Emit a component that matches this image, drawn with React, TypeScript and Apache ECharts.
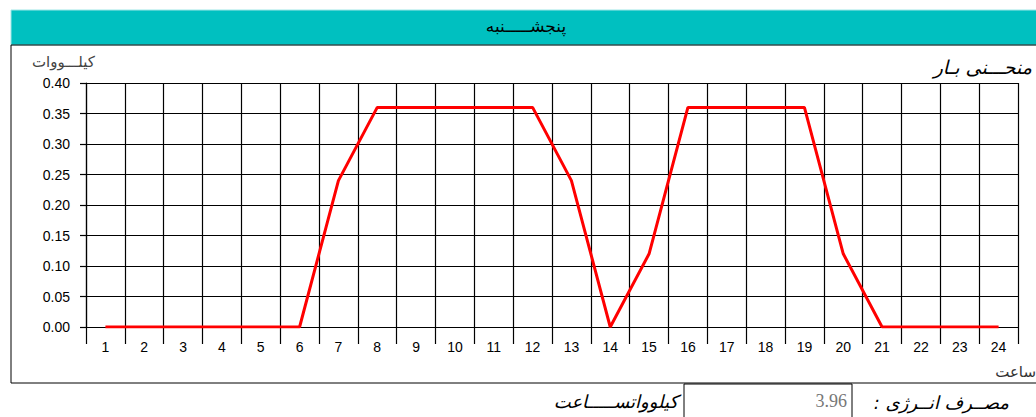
import React, { useEffect, useRef } from "react";
import * as echarts from "echarts";

const hours: string[] = [
  "1","2","3","4","5","6","7","8","9","10","11","12",
  "13","14","15","16","17","18","19","20","21","22","23","24",
];
const loadKw: number[] = [
  0, 0, 0, 0, 0, 0, 0.24, 0.36, 0.36, 0.36, 0.36, 0.36,
  0.24, 0, 0.12, 0.36, 0.36, 0.36, 0.36, 0.12, 0, 0, 0, 0,
];
const dayTitle = "پنجشـــــنبه";
const chartTitle = "منحـــنی بـار";
const yUnit = "کیلـــووات";
const xUnit = "ساعت";
const energyLabel = "مصــرف انــرژی :\u200F";
const energyValue = "3.96";
const energyUnit = "کیلوواتســـــاعت";

const PERSIAN_FONT = "'DejaVu Sans', 'Noto Sans', sans-serif";
const LATIN_FONT = "'Liberation Sans', Arial, sans-serif";

export default function App() {
  const ref = useRef<HTMLDivElement>(null);
  useEffect(() => {
    if (!ref.current) return;
    const chart = echarts.init(ref.current, undefined, { renderer: "svg" });
    chart.setOption({
      animation: false,
      backgroundColor: "#ffffff",
      grid: { left: 86, right: 18, top: 83, bottom: 90, containLabel: false },
      xAxis: {
        type: "category",
        data: hours,
        boundaryGap: true,
        axisLine: { show: true, lineStyle: { color: "#000", width: 1.2 } },
        axisTick: { show: true, interval: 0, length: 17, lineStyle: { color: "#000", width: 1.2 } },
        axisLabel: { interval: 0, color: "#000", fontSize: 14, fontFamily: LATIN_FONT, margin: 13 },
        splitLine: { show: true, interval: 0, lineStyle: { color: "#000", width: 1.2 } },
      },
      yAxis: {
        type: "value",
        min: 0,
        max: 0.4,
        interval: 0.05,
        axisLine: { show: true, lineStyle: { color: "#000", width: 1.2 } },
        axisTick: { show: true, length: 6, lineStyle: { color: "#000", width: 1.2 } },
        axisLabel: {
          color: "#000",
          fontSize: 14,
          fontFamily: LATIN_FONT,
          margin: 16,
          formatter: (v: number) => v.toFixed(2),
        },
        splitLine: { show: true, lineStyle: { color: "#000", width: 1.2 } },
      },
      series: [
        {
          type: "line",
          data: loadKw,
          symbol: "none",
          lineStyle: { color: "#ff0000", width: 3 },
          z: 5,
        },
      ],
      graphic: [
        {
          type: "rect",
          z: -10,
          shape: { x: 11, y: 10, width: 1030, height: 35 },
          style: { fill: "#00c0c0", stroke: "#9fe6e6", lineWidth: 1 },
        },
        {
          type: "text",
          x: 526,
          y: 26,
          style: {
            text: dayTitle,
            fill: "#000",
            font: `17px ${PERSIAN_FONT}`,
            align: "center",
            verticalAlign: "middle",
          },
        },
        {
          type: "rect",
          z: -10,
          shape: { x: 11, y: 45, width: 1040, height: 338 },
          style: { fill: "none", stroke: "#000", lineWidth: 1 },
        },
        {
          type: "text",
          x: 95,
          y: 62,
          style: {
            text: yUnit,
            fill: "#444",
            font: `15px ${PERSIAN_FONT}`,
            align: "right",
            verticalAlign: "middle",
          },
        },
        {
          type: "text",
          x: 1032,
          y: 67,
          style: {
            text: chartTitle,
            fill: "#000",
            font: `italic 19px ${PERSIAN_FONT}`,
            align: "right",
            verticalAlign: "middle",
          },
        },
        {
          type: "text",
          x: 1036,
          y: 372,
          style: {
            text: xUnit,
            fill: "#333",
            font: `15px ${PERSIAN_FONT}`,
            align: "right",
            verticalAlign: "middle",
          },
        },
        {
          type: "rect",
          shape: { x: 684, y: 384, width: 168, height: 40 },
          style: { fill: "#fff", stroke: "#000", lineWidth: 1 },
        },
        {
          type: "text",
          x: 847,
          y: 401,
          style: {
            text: energyValue,
            fill: "#777",
            font: `18px 'Liberation Serif', serif`,
            align: "right",
            verticalAlign: "middle",
          },
        },
        {
          type: "text",
          x: 678,
          y: 401,
          style: {
            text: energyUnit,
            fill: "#000",
            font: `italic 18px ${PERSIAN_FONT}`,
            align: "right",
            verticalAlign: "middle",
          },
        },
        {
          type: "text",
          x: 1009,
          y: 402,
          style: {
            text: energyLabel,
            fill: "#000",
            font: `italic 18px ${PERSIAN_FONT}`,
            align: "right",
            verticalAlign: "middle",
          },
        },
      ],
    });
    return () => chart.dispose();
  }, []);
  return (
    <div
      ref={ref}
      style={{ position: "fixed", left: 0, top: 0, width: 1036, height: 417 }}
    />
  );
}
